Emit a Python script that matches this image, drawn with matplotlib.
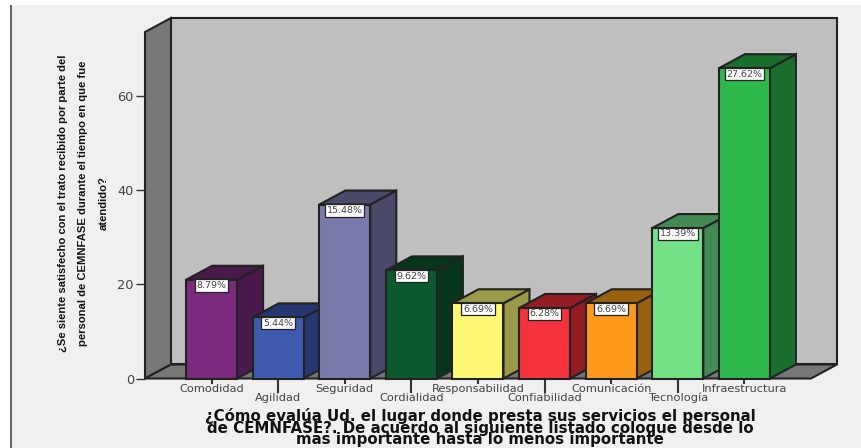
import matplotlib
matplotlib.use("Agg")
import matplotlib.pyplot as plt
from matplotlib.patches import Polygon, Rectangle

categorias = ['Comodidad', 'Agilidad', 'Seguridad', 'Cordialidad', 'Responsabilidad',
              'Confiabilidad', 'Comunicación', 'Tecnología', 'Infraestructura']
frecuencias = [21, 13, 37, 23, 16, 15, 16, 32, 66]
porcentajes = ['8.79%', '5.44%', '15.48%', '9.62%', '6.69%', '6.28%', '6.69%', '13.39%', '27.62%']
colores_frente = ['#7b2a7d', '#3d5aaf', '#7a7aaa', '#0b5a2e', '#fdf974',
                  '#f4333c', '#fd9a1c', '#74e088', '#2eb84c']
colores_lado = ['#4b1a4c', '#253670', '#4b4a6a', '#07361c', '#9b9a48',
                '#941d24', '#99600f', '#448a54', '#1b6f2e']
yticks = [0, 20, 40, 60]

titulo_x = ('¿Cómo evalúa Ud. el lugar donde presta sus servicios el personal\n'
            'de CEMNFASE?. De acuerdo al siguiente listado coloque desde lo\n'
            'mas importante hasta lo menos importante')
titulo_y = ('¿Se siente satisfecho con el trato recibido por parte del\n'
            'personal de CEMNFASE durante el tiempo en que fue\n'
            'atendido?')

W, H = 862, 448
borde = '#222222'
ymax = 73.7
# profundidad del efecto 3D, en unidades de datos
dx = 26 / 66.6
dy = 14 / 4.7
ancho = 51 / 66.6

fig = plt.figure(figsize=(W / 100, H / 100), dpi=100, facecolor='white')

# fondo gris con la linea vertical de la izquierda
fig.add_artist(Rectangle((11 / W, 0), 1 - 11 / W, 1 - 5 / H, transform=fig.transFigure,
                         facecolor='#f0f0f0', edgecolor='none', zorder=-2))
fig.add_artist(Rectangle((10 / W, 0), 2 / W, 1 - 5 / H, transform=fig.transFigure,
                         facecolor='#666666', edgecolor='none', zorder=-1))

ax = fig.add_axes([145 / W, (H - 378.5) / H, 666 / W, 346.5 / H])
ax.set_facecolor('none')
ax.set_xlim(-1, 9)
ax.set_ylim(0, ymax)
for s in ax.spines.values():
    s.set_visible(False)


def cara(puntos, color, z=1, lw=1.5):
    ax.add_patch(Polygon(puntos, closed=True, facecolor=color, edgecolor=borde,
                         linewidth=lw, clip_on=False, zorder=z, joinstyle='miter'))


# paredes y piso de la caja
cara([(-1 + dx, dy), (9 + dx, dy), (9 + dx, ymax + dy), (-1 + dx, ymax + dy)], '#bfbfbf')
cara([(-1, 0), (-1 + dx, dy), (-1 + dx, ymax + dy), (-1, ymax)], '#777777')
cara([(-1, 0), (9, 0), (9 + dx, dy), (-1 + dx, dy)], '#777777')

# barras de izquierda a derecha, cada una tapa el lado de la anterior
for i, v in enumerate(frecuencias):
    x0 = i - ancho / 2
    x1 = i + ancho / 2
    z = 2 + i
    cara([(x1, 0), (x1 + dx, dy), (x1 + dx, v + dy), (x1, v)], colores_lado[i], z)
    cara([(x0, v), (x1, v), (x1 + dx, v + dy), (x0 + dx, v + dy)], colores_lado[i], z)
    ax.bar(i, v, width=ancho, color=colores_frente[i], edgecolor=borde, linewidth=1.5,
           zorder=z, clip_on=False)
    ax.annotate(porcentajes[i], (i, v), xytext=(0, -4.2), textcoords='offset points',
                ha='center', va='center', fontsize=6.8, color='#444444', zorder=z + 0.5,
                bbox=dict(boxstyle='square,pad=0.18', facecolor='white', edgecolor='#222222',
                          linewidth=0.9))

ax.set_yticks(yticks)
ax.tick_params(axis='y', length=6.5, width=1, color='#333333', labelsize=9.3,
               labelcolor='#444444', pad=1.5)

# etiquetas del eje x escalonadas en dos filas: pares como major, impares como minor
pos = list(range(len(categorias)))
ax.set_xticks(pos[0::2], categorias[0::2])
ax.set_xticks(pos[1::2], categorias[1::2], minor=True)
ax.tick_params(axis='x', which='major', length=3.6, width=1.5, color='#333333',
               labelsize=8.2, labelcolor='#444444', pad=0.3)
ax.tick_params(axis='x', which='minor', length=10, width=1.5, color='#333333',
               labelsize=8.2, labelcolor='#444444', pad=0.2)

fig.text(480 / W, 1 - 427.5 / H, titulo_x, ha='center', va='center', fontsize=10.8,
         fontweight='bold', family='DejaVu Sans', linespacing=0.72, color='#111111')
fig.text(83 / W, 1 - 203 / H, titulo_y, ha='center', va='center', rotation=90, fontsize=8.1,
         fontweight='bold', family='Liberation Sans', linespacing=2.3, color='#111111')

fig.savefig('out.png', dpi=100, facecolor=fig.get_facecolor())
